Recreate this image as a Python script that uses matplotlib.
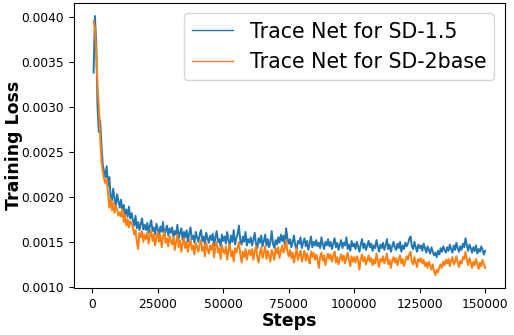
import numpy as np
import matplotlib
matplotlib.use("Agg")
import matplotlib.pyplot as plt

# training steps (one logged value every 500 steps)
steps = np.arange(500, 150001, 500)

# loss values, in units of 1e-5, ten values per row
sd15_loss = [
    338, 401, 372, 300, 272, 285, 258, 236, 228, 222,
    234, 212, 222, 200, 196, 209, 198, 190, 203, 195,
    188, 197, 184, 191, 180, 186, 178, 189, 176, 182,
    174, 168, 179, 165, 172, 163, 170, 176, 164, 169,
    163, 171, 160, 168, 174, 162, 166, 158, 170, 164,
    158, 167, 161, 172, 156, 163, 168, 157, 165, 160,
    166, 155, 162, 158, 169, 154, 160, 165, 152, 161,
    155, 163, 150, 159, 166, 153, 157, 149, 161, 155,
    150, 158, 163, 151, 156, 147, 160, 154, 149, 157,
    152, 159, 146, 155, 162, 150, 153, 145, 158, 151,
    156, 148, 161, 152, 145, 157, 150, 163, 147, 154,
    159, 168, 152, 147, 156, 150, 161, 146, 153, 149,
    155, 146, 152, 160, 148, 143, 154, 149, 157, 145,
    151, 158, 146, 153, 144, 150, 162, 148, 143, 152,
    147, 155, 149, 158, 151, 157, 146, 165, 154, 148,
    153, 144, 150, 157, 146, 142, 151, 148, 155, 143,
    149, 154, 145, 151, 141, 148, 156, 144, 150, 146,
    152, 145, 149, 143, 155, 147, 142, 150, 146, 153,
    145, 150, 142, 148, 154, 144, 149, 141, 147, 152,
    143, 149, 146, 155, 142, 147, 140, 151, 145, 148,
    142, 150, 145, 139, 147, 153, 143, 148, 141, 146,
    151, 144, 148, 140, 146, 143, 152, 145, 139, 147,
    143, 149, 141, 146, 153, 142, 147, 139, 145, 150,
    144, 141, 148, 143, 150, 139, 146, 142, 149, 145,
    148, 153, 156, 145, 142, 150, 144, 139, 147, 143,
    146, 140, 148, 143, 138, 145, 141, 137, 144, 139,
    135, 138, 133, 140, 136, 143, 139, 145, 141, 138,
    144, 140, 147, 142, 138, 146, 141, 149, 143, 139,
    145, 141, 148, 144, 154, 146, 140, 147, 143, 138,
    144, 140, 146, 137, 142, 139, 145, 141, 136, 140,
]
sd2base_loss = [
    395, 388, 360, 325, 300, 268, 240, 228, 220, 215,
    220, 205, 188, 198, 185, 194, 182, 190, 186, 179,
    183, 178, 186, 172, 180, 168, 175, 166, 173, 170,
    166, 158, 163, 150, 142, 160, 155, 162, 150, 158,
    153, 160, 148, 157, 163, 151, 158, 146, 155, 161,
    150, 158, 144, 155, 161, 149, 154, 145, 157, 151,
    147, 155, 141, 150, 158, 144, 152, 139, 148, 154,
    143, 150, 139, 147, 153, 141, 146, 136, 149, 144,
    139, 147, 152, 140, 145, 134, 149, 142, 137, 146,
    141, 148, 133, 144, 150, 138, 143, 131, 146, 140,
    137, 145, 130, 141, 147, 134, 140, 128, 143, 138,
    144, 150, 136, 127, 139, 133, 142, 130, 137, 141,
    135, 142, 130, 139, 145, 133, 127, 138, 144, 132,
    138, 145, 131, 140, 134, 128, 141, 136, 130, 143,
    137, 144, 132, 140, 146, 138, 142, 152, 139, 134,
    141, 132, 138, 127, 135, 143, 130, 136, 140, 128,
    134, 140, 129, 137, 131, 126, 139, 133, 138, 130,
    136, 130, 121, 133, 138, 129, 135, 124, 132, 137,
    131, 136, 128, 134, 139, 127, 133, 125, 131, 136,
    129, 135, 126, 132, 138, 130, 123, 134, 128, 133,
    127, 134, 130, 119, 131, 136, 128, 133, 125, 130,
    135, 128, 132, 124, 130, 126, 137, 129, 122, 131,
    128, 134, 126, 131, 137, 125, 130, 121, 129, 133,
    127, 132, 124, 130, 135, 126, 131, 123, 129, 134,
    130, 136, 139, 128, 125, 133, 127, 122, 131, 128,
    132, 126, 130, 123, 127, 121, 128, 124, 119, 125,
    117, 113, 119, 116, 122, 125, 121, 128, 124, 130,
    126, 131, 123, 129, 133, 125, 128, 134, 127, 122,
    129, 126, 133, 131, 139, 130, 124, 132, 127, 121,
    128, 124, 131, 126, 120, 127, 123, 130, 125, 121,
]

sd15 = np.array(sd15_loss) * 1e-5
sd2 = np.array(sd2base_loss) * 1e-5

fig, ax = plt.subplots(figsize=(5.14, 3.35), dpi=100)
fig.subplots_adjust(left=0.144, right=0.982, top=0.991, bottom=0.14)

ax.plot(steps, sd15, color="#1f77b4", lw=1.4, label="Trace Net for SD-1.5")
ax.plot(steps, sd2, color="#ff7f0e", lw=1.4, label="Trace Net for SD-2base")

ax.set_xlabel("Steps", fontsize=12.5, fontweight="bold", labelpad=1)
ax.set_ylabel("Training Loss", fontsize=12.5, fontweight="bold", labelpad=-1)
ax.set_yticks([0.0010, 0.0015, 0.0020, 0.0025, 0.0030, 0.0035, 0.0040])
ax.set_xticks([0, 25000, 50000, 75000, 100000, 125000, 150000])
ax.tick_params(labelsize=8.8)
leg = ax.legend(loc="upper right", fontsize=14.8)
for line in leg.get_lines():
    line.set_linewidth(1.0)

plt.savefig("out.png", dpi=100)
